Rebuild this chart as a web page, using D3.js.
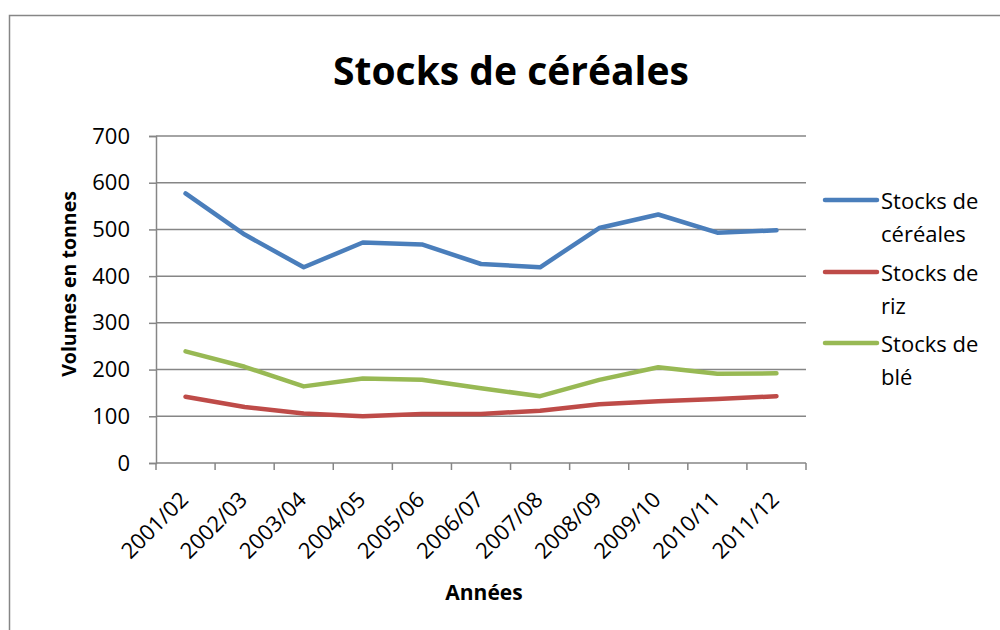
<!DOCTYPE html>
<html>
<head>
<meta charset="utf-8">
<script src="https://cdn.jsdelivr.net/npm/d3@7"></script>
<style>
  body { margin: 0; background: #fff; }
  text { font-family: "Open Sans", "Noto Sans", sans-serif; fill: #000; }
</style>
</head>
<body>
<svg width="1000" height="630"></svg>
<script>
var years = ["2001/02", "2002/03", "2003/04", "2004/05", "2005/06", "2006/07",
             "2007/08", "2008/09", "2009/10", "2010/11", "2011/12"];
var cereales = [577, 489, 419, 472, 468, 426, 419, 503, 532, 493, 498];
var riz      = [142, 120, 106, 100, 105, 105, 112, 126, 132, 137, 143];
var ble      = [239, 206, 164, 181, 178, 160, 143, 178, 205, 191, 192];
var yTicks = [0, 100, 200, 300, 400, 500, 600, 700];
var seriesNames = ["Stocks de céréales", "Stocks de riz", "Stocks de blé"];
var colors = ["#4a7ebb", "#be4b48", "#98b954"];

var svg = d3.select("svg"),
    margin = {top: 136, left: 156, right: 194, bottom: 167},
    width = 1000 - margin.left - margin.right,
    height = 630 - margin.top - margin.bottom;

// cadre extérieur
svg.append("rect")
    .attr("x", 9.5).attr("y", 15.5)
    .attr("width", 1000).attr("height", 640)
    .attr("fill", "none").attr("stroke", "#868686").attr("stroke-width", 1.5);

svg.append("text")
    .attr("x", 511).attr("y", 85)
    .attr("text-anchor", "middle")
    .style("font-size", "39px").style("font-weight", "bold")
    .text("Stocks de céréales");

var g = svg.append("g")
    .attr("transform", "translate(" + margin.left + "," + margin.top + ")");

var x = d3.scaleBand().domain(years).range([0, width]);
var y = d3.scaleLinear().domain([0, 700]).range([height, 0]);

// grille
g.append("g")
    .selectAll("line")
    .data(yTicks.slice(1))
    .enter().append("line")
    .attr("x1", 0).attr("x2", width)
    .attr("y1", function(d) { return y(d); })
    .attr("y2", function(d) { return y(d); })
    .attr("stroke", "#868686").attr("stroke-width", 1.5);

// axe Y
var yAxis = g.append("g")
    .call(d3.axisLeft(y).tickValues(yTicks).tickSize(7).tickPadding(19));
yAxis.select(".domain").attr("stroke", "#868686").attr("stroke-width", 1.5);
yAxis.selectAll(".tick line").attr("stroke", "#868686").attr("stroke-width", 1.5);
yAxis.selectAll("text").style("font-size", "22px").style("font-family", "'Open Sans'").attr("fill", "#000");

// axe X : ticks aux limites des catégories
var xAxis = g.append("g").attr("transform", "translate(0," + height + ")");
xAxis.append("line")
    .attr("x1", 0).attr("x2", width)
    .attr("stroke", "#868686").attr("stroke-width", 1.5);
xAxis.selectAll(".tk")
    .data(d3.range(years.length + 1))
    .enter().append("line")
    .attr("x1", function(i) { return i * x.bandwidth(); })
    .attr("x2", function(i) { return i * x.bandwidth(); })
    .attr("y1", 0).attr("y2", 7)
    .attr("stroke", "#868686").attr("stroke-width", 1.5);
xAxis.selectAll(".lbl")
    .data(years)
    .enter().append("text")
    .attr("text-anchor", "end")
    .attr("transform", function(d) {
        var cx = x(d) + x.bandwidth() / 2 + 4;
        return "translate(" + cx + ",38) rotate(-45)";
    })
    .style("font-size", "22px")
    .text(function(d) { return d; });

svg.append("text")
    .attr("transform", "translate(76,284) rotate(-90)")
    .attr("text-anchor", "middle")
    .style("font-size", "19.5px").style("font-weight", "bold")
    .text("Volumes en tonnes");

svg.append("text")
    .attr("x", 484).attr("y", 600)
    .attr("text-anchor", "middle")
    .style("font-size", "21px").style("font-weight", "bold")
    .text("Années");

// séries
var series = [cereales, riz, ble];
var line = d3.line()
    .x(function(d, i) { return x(years[i]) + x.bandwidth() / 2; })
    .y(function(d) { return y(d); });

g.selectAll(".serie")
    .data(series)
    .enter().append("path")
    .attr("d", line)
    .attr("fill", "none")
    .attr("stroke", function(d, i) { return colors[i]; })
    .attr("stroke-width", 4.5)
    .attr("stroke-linejoin", "round")
    .attr("stroke-linecap", "round");

// légende
var legend = svg.append("g");
var legY = [200, 272, 343];
seriesNames.forEach(function(name, i) {
    legend.append("line")
        .attr("x1", 825).attr("x2", 877)
        .attr("y1", legY[i]).attr("y2", legY[i])
        .attr("stroke", colors[i]).attr("stroke-width", 4.5)
        .attr("stroke-linecap", "round");
    var words = name.split(" ");
    var t = legend.append("text")
        .attr("x", 881).attr("y", legY[i] + 8.5)
        .style("font-size", "22px");
    t.append("tspan").attr("x", 881).text(words.slice(0, 2).join(" "));
    t.append("tspan").attr("x", 881).attr("dy", 33).text(words.slice(2).join(" "));
});
</script>
</body>
</html>
